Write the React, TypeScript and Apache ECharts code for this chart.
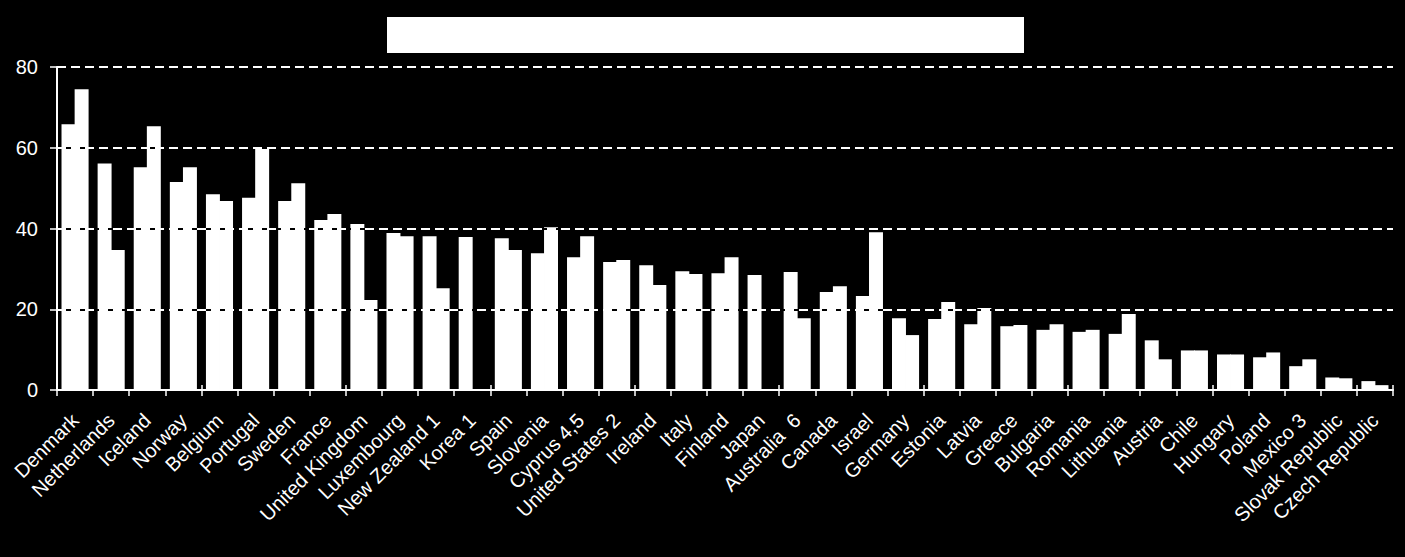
import React, { useEffect, useRef } from "react";
import * as echarts from "echarts";

const categories = [
  "Denmark", "Netherlands", "Iceland", "Norway", "Belgium", "Portugal", "Sweden",
  "France", "United Kingdom", "Luxembourg", "New Zealand 1", "Korea 1", "Spain",
  "Slovenia", "Cyprus 4,5", "United States 2", "Ireland", "Italy", "Finland", "Japan",
  "Australia  6", "Canada", "Israel", "Germany", "Estonia", "Latvia", "Greece",
  "Bulgaria", "Romania", "Lithuania", "Austria", "Chile", "Hungary", "Poland",
  "Mexico 3", "Slovak Republic", "Czech Republic",
];

const seriesA = [
  65.8, 56.1, 55.2, 51.5, 48.5, 47.6, 46.8, 42.1, 41.1, 38.9, 38.1, 37.9, 37.6,
  33.9, 32.9, 31.7, 30.9, 29.4, 28.9, 28.5, 29.2, 24.3, 23.3, 17.8, 17.6, 16.3,
  15.8, 14.9, 14.4, 13.9, 12.3, 9.8, 8.8, 8.1, 5.9, 3.1, 2.2,
];

const seriesB = [
  74.5, 34.7, 65.3, 55.2, 46.8, 60.0, 51.2, 43.6, 22.3, 38.1, 25.2, null, 34.7,
  40.3, 38.1, 32.2, 26.0, 28.7, 32.9, null, 17.8, 25.7, 39.1, 13.6, 21.8, 20.3,
  16.1, 16.3, 14.9, 18.8, 7.6, 9.8, 8.8, 9.3, 7.6, 2.9, 1.2,
];

const yMin = 0;
const yMax = 80;
const yStep = 20;

const FONT = "'Liberation Sans', Arial, sans-serif";

export default function App() {
  const ref = useRef<HTMLDivElement>(null);

  useEffect(() => {
    if (!ref.current) return;
    const chart = echarts.init(ref.current, null, { renderer: "svg" });
    const grid = { left: 57, right: 12, top: 67, bottom: 167 };
    const barStyle = { color: "#ffffff" };
    chart.setOption({
      animation: false,
      backgroundColor: "#000000",
      grid,
      graphic: [
        {
          type: "rect",
          shape: { x: 387, y: 17, width: 637, height: 36 },
          style: { fill: "#ffffff" },
          z: 10,
        },
      ],
      xAxis: [
        {
          type: "category",
          data: categories,
          position: "bottom",
          z: 6,
          axisLine: { show: true, lineStyle: { color: "#ffffff", width: 2 } },
          axisTick: { show: true, length: 6, lineStyle: { color: "#ffffff", width: 1.5 } },
          axisLabel: {
            color: "#ffffff",
            fontFamily: FONT,
            fontSize: 20,
            rotate: 45,
            margin: 27,
            interval: 0,
          },
          splitLine: { show: false },
        },
        {
          type: "category",
          data: categories,
          position: "bottom",
          offset: 0,
          z: 6,
          axisLine: { show: false },
          axisTick: { show: true, inside: true, length: 5, lineStyle: { color: "#ffffff", width: 1.5 } },
          axisLabel: { show: false },
          splitLine: { show: false },
        },
      ],
      yAxis: [
        {
          type: "value",
          min: yMin,
          max: yMax,
          interval: yStep,
          position: "left",
          z: 3,
          axisLine: { show: true, lineStyle: { color: "#ffffff", width: 2 } },
          axisTick: { show: true, length: 7, lineStyle: { color: "#ffffff", width: 1.5 } },
          axisLabel: {
            color: "#ffffff",
            fontFamily: FONT,
            fontSize: 20,
            margin: 19,
          },
          splitLine: { show: true, lineStyle: { color: "#000000", width: 2, type: "solid" } },
        },
        {
          type: "value",
          min: yMin,
          max: yMax,
          interval: yStep,
          position: "left",
          z: 4,
          axisLine: { show: false },
          axisTick: { show: false },
          axisLabel: { show: false },
          splitLine: { show: true, lineStyle: { color: "#ffffff", width: 2, type: [9, 5] } },
        },
      ],
      series: [
        {
          type: "bar",
          data: seriesA,
          xAxisIndex: 0,
          yAxisIndex: 0,
          barGap: "-6%",
          barCategoryGap: "25%",
          itemStyle: barStyle,
          z: 2,
        },
        {
          type: "bar",
          data: seriesB,
          xAxisIndex: 0,
          yAxisIndex: 0,
          barGap: "-6%",
          barCategoryGap: "25%",
          itemStyle: barStyle,
          z: 2,
        },
      ],
    });
    return () => chart.dispose();
  }, []);

  return (
    <div
      ref={ref}
      style={{ position: "fixed", left: 0, top: 0, width: 1405, height: 557, background: "#000" }}
    />
  );
}
